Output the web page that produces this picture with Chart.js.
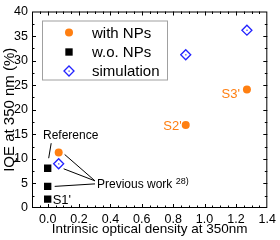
<!DOCTYPE html>
<html>
<head>
<meta charset="utf-8">
<script src="https://cdn.jsdelivr.net/npm/chart.js@4.4.1/dist/chart.umd.min.js"></script>
<style>
html,body{margin:0;padding:0;background:#fff;}
#wrap{width:280px;height:240px;}
</style>
</head>
<body>
<div id="wrap"><canvas id="iqe" width="280" height="240"></canvas></div>
<script>
// values
const withX=[0.07,0.88,1.27];
const withY=[11.3,16.9,24.1];
const woX=[0,0,0];
const woY=[8.1,4.4,1.8];
const simX=[0.07,0.88,1.27];
const simY=[9.0,31.2,36.2];
const xTicks=[0,0.2,0.4,0.6,0.8,1.0,1.2,1.4];
const yTicks=[0,5,10,15,20,25,30,35,40];
const seriesNames=['with NPs','w.o. NPs','simulation'];

const ORANGE='#ff7f11';
const BLUE='#2323ff';
const FONT='Arial, "Liberation Sans", sans-serif';

function pts(xs,ys){
    let out=[];
    for(let i=0;i<xs.length;i++) out.push({x:xs[i],y:ys[i]});
    return out;
}

// frame with inward ticks on all four sides
const framePlugin={
    id:'frame',
    afterDraw(chart){
        const ctx=chart.ctx;
        const a=chart.chartArea;
        const xs=chart.scales.x, ys=chart.scales.y;
        ctx.save();
        ctx.strokeStyle='#000';
        ctx.lineWidth=1;
        ctx.strokeRect(a.left+0.5,a.top+0.5,a.right-a.left-1,a.bottom-a.top-1);
        ctx.beginPath();
        for(let k=-1;k<=28;k++){
            let v=k*0.05;
            if(v<=-0.1+1e-9||v>=1.4-1e-9) continue;
            let px=Math.round(xs.getPixelForValue(v))+0.5;
            let len=(k%4==0)?4:2.5;
            ctx.moveTo(px,a.bottom);ctx.lineTo(px,a.bottom-len);
            ctx.moveTo(px,a.top);ctx.lineTo(px,a.top+len);
        }
        for(let k=1;k<16;k++){
            let v=k*2.5;
            let py=Math.round(ys.getPixelForValue(v))+0.5;
            let len=(k%2==0)?4:2.5;
            ctx.moveTo(a.left,py);ctx.lineTo(a.left+len,py);
            ctx.moveTo(a.right,py);ctx.lineTo(a.right-len,py);
        }
        ctx.stroke();
        ctx.restore();
    }
};

// legend box + annotations
const notesPlugin={
    id:'notes',
    afterDatasetsDraw(chart){
        const ctx=chart.ctx;
        const a=chart.chartArea;
        const m0=chart.getDatasetMeta(0).data;
        const m1=chart.getDatasetMeta(1).data;
        const m2=chart.getDatasetMeta(2).data;
        ctx.save();
        // centre dots in diamonds
        ctx.fillStyle=BLUE;
        m2.forEach(p=>{ctx.fillRect(p.x-0.5,p.y-0.5,1.2,1.2);});

        // legend
        const lx=a.left+10, ly=a.top+9, lw=125, lh=59;
        ctx.fillStyle='#fff';
        ctx.fillRect(lx,ly,lw,lh);
        ctx.strokeStyle='#a0a0a0';
        ctx.lineWidth=1;
        ctx.strokeRect(lx+0.5,ly+0.5,lw,lh);
        const rows=[ly+12,ly+31.5,ly+50.5];
        const mx=lx+27;
        chart.data.datasets.forEach((ds,i)=>{
            ctx.fillStyle=ds.backgroundColor;
            ctx.strokeStyle=ds.borderColor;
            ctx.lineWidth=ds.borderWidth;
            Chart.helpers.drawPoint(ctx,{pointStyle:ds.pointStyle,radius:ds.pointRadius,borderWidth:ds.borderWidth},mx,rows[i]);
            if(i==2){ctx.fillStyle=BLUE;ctx.fillRect(mx-0.5,rows[i]-0.5,1.2,1.2);}
            ctx.fillStyle='#000';
            ctx.font='15px '+FONT;
            ctx.textAlign='left';
            ctx.textBaseline='middle';
            ctx.fillText(seriesNames[i],lx+50,rows[i]+1);
        });

        // sample labels
        ctx.font='13px '+FONT;
        ctx.textBaseline='middle';
        ctx.fillStyle=ORANGE;
        ctx.textAlign='right';
        ctx.fillText("S3'",m0[2].x-7,m0[2].y+5);
        ctx.fillText("S2'",m0[1].x-4,m0[1].y+1);
        ctx.fillStyle='#000';
        ctx.textAlign='left';
        ctx.fillText("S1'",m1[2].x+5,m1[2].y+1);

        // Reference
        ctx.font='12px '+FONT;
        ctx.textAlign='center';
        ctx.fillText('Reference',m1[0].x+23,m1[0].y-33);
        ctx.strokeStyle='#000';
        ctx.lineWidth=1;
        ctx.beginPath();
        ctx.moveTo(m1[0].x+3.5,m1[0].y-25);
        ctx.lineTo(m1[0].x+1,m1[0].y-10);
        ctx.stroke();

        // Previous work
        const tx=a.left+65, ty=m1[1].y-1.5;
        ctx.textAlign='left';
        ctx.fillText('Previous work',tx,ty);
        let w=ctx.measureText('Previous work ').width;
        ctx.font='9px '+FONT;
        ctx.fillText('28)',tx+w,ty-3);
        ctx.beginPath();
        ctx.moveTo(tx-2,ty-4);ctx.lineTo(m0[0].x+6,m0[0].y+2);
        ctx.moveTo(tx-2,ty-4);ctx.lineTo(m2[0].x+5,m2[0].y+5);
        ctx.moveTo(tx-2,ty-1);ctx.lineTo(m1[1].x+7,m1[1].y);
        ctx.stroke();
        ctx.restore();
    }
};

new Chart(document.getElementById('iqe'),{
    type:'scatter',
    data:{
        datasets:[
            {label:seriesNames[0],data:pts(withX,withY),pointStyle:'circle',pointRadius:4,
             backgroundColor:ORANGE,borderColor:ORANGE,borderWidth:0},
            {label:seriesNames[1],data:pts(woX,woY),pointStyle:'rect',pointRadius:5.2,
             backgroundColor:'#000',borderColor:'#000',borderWidth:0},
            {label:seriesNames[2],data:pts(simX,simY),pointStyle:'rectRot',pointRadius:5,
             backgroundColor:'rgba(255,255,255,1)',borderColor:BLUE,borderWidth:1.3}
        ]
    },
    options:{
        responsive:false,
        animation:false,
        layout:{padding:{top:6,right:12,left:0,bottom:0}},
        plugins:{legend:{display:false},tooltip:{enabled:false}},
        scales:{
            x:{
                type:'linear',min:-0.1,max:1.4,
                grid:{display:false,drawTicks:false},
                border:{display:false},
                afterBuildTicks(s){s.ticks=xTicks.map(v=>({value:v}));},
                afterFit(s){s.height=32;},
                ticks:{color:'#000',font:{family:FONT,size:12.5},padding:4,maxRotation:0,
                       callback:v=>Number(v).toFixed(1)},
                title:{display:true,text:'Intrinsic optical density at 350nm',color:'#000',
                       font:{family:FONT,size:13.5},padding:{top:0,bottom:3}}
            },
            y:{
                type:'linear',min:0,max:40,
                grid:{display:false,drawTicks:false},
                border:{display:false},
                afterBuildTicks(s){s.ticks=yTicks.map(v=>({value:v}));},
                afterFit(s){s.width=32;},
                ticks:{color:'#000',font:{family:FONT,size:12.5},padding:4},
                title:{display:true,text:'IQE at 350 nm (%)',color:'#000',
                       font:{family:FONT,size:15},padding:{top:1,bottom:0}}
            }
        }
    },
    plugins:[framePlugin,notesPlugin]
});
</script>
</body>
</html>
